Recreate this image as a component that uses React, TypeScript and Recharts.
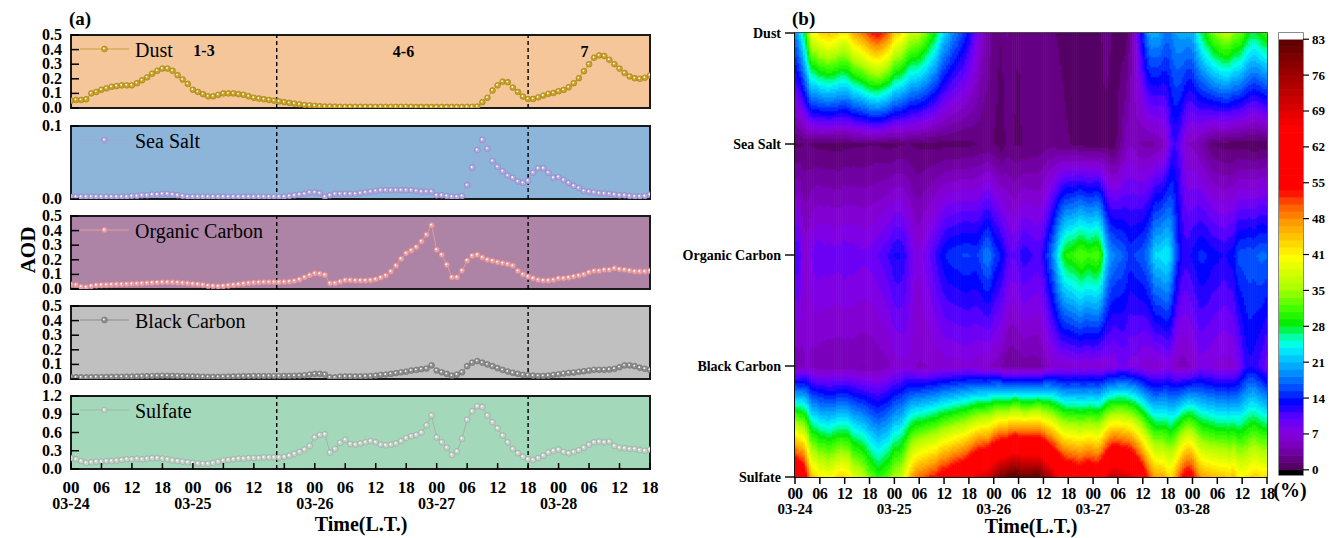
import React from 'react';
import {
  LineChart, Line, XAxis, YAxis, CartesianGrid, ReferenceLine, ReferenceArea,
  ComposedChart, Scatter, Legend,
} from 'recharts';

const FONT = "'Times New Roman', 'Liberation Serif', serif";

// ---------------- data (hourly, 03-24 00:00 .. 03-28 18:00) ----------------
const HOURS = Array.from({ length: 115 }, (_, i) => i);

const DUST = [
  0.05, 0.055, 0.055, 0.06, 0.10, 0.11, 0.125, 0.135, 0.145, 0.15,
  0.155, 0.155, 0.155, 0.17, 0.19, 0.21, 0.235, 0.255, 0.27, 0.27,
  0.255, 0.225, 0.195, 0.165, 0.125, 0.11, 0.095, 0.08, 0.08, 0.09,
  0.10, 0.10, 0.10, 0.095, 0.09, 0.08, 0.07, 0.065, 0.06, 0.055,
  0.05, 0.045, 0.04, 0.035, 0.03, 0.025, 0.02, 0.018, 0.015, 0.012,
  0.01, 0.01, 0.009, 0.008, 0.008, 0.008, 0.008, 0.008, 0.008, 0.008,
  0.008, 0.008, 0.008, 0.008, 0.008, 0.008, 0.008, 0.008, 0.007, 0.007,
  0.007, 0.007, 0.007, 0.007, 0.007, 0.007, 0.007, 0.007, 0.008, 0.008,
  0.01, 0.04, 0.07, 0.12, 0.155, 0.18, 0.177, 0.14, 0.11, 0.078,
  0.062, 0.062, 0.073, 0.085, 0.097, 0.103, 0.115, 0.124, 0.142, 0.17,
  0.204, 0.252, 0.30, 0.345, 0.36, 0.356, 0.33, 0.30, 0.27, 0.24,
  0.216, 0.204, 0.20, 0.207, 0.223,
];

const SEA_SALT = [
  0.003, 0.003, 0.003, 0.003, 0.003, 0.003, 0.003, 0.003, 0.003, 0.003,
  0.003, 0.003, 0.004, 0.004, 0.005, 0.005, 0.006, 0.006, 0.007, 0.007,
  0.006, 0.005, 0.004, 0.003, 0.003, 0.003, 0.003, 0.003, 0.003, 0.003,
  0.003, 0.003, 0.003, 0.003, 0.003, 0.003, 0.003, 0.003, 0.003, 0.003,
  0.003, 0.003, 0.003, 0.004, 0.005, 0.006, 0.007, 0.009, 0.009, 0.008,
  0.003, 0.005, 0.007, 0.007, 0.007, 0.007, 0.007, 0.008, 0.009, 0.010,
  0.011, 0.012, 0.012, 0.012, 0.012, 0.012, 0.012, 0.012, 0.011, 0.010,
  0.010, 0.010, 0.005, 0.005, 0.004, 0.003, 0.003, 0.004, 0.019, 0.043,
  0.067, 0.081, 0.069, 0.052, 0.044, 0.038, 0.032, 0.029, 0.024, 0.022,
  0.025, 0.036, 0.042, 0.042, 0.036, 0.029, 0.030, 0.026, 0.022, 0.018,
  0.015, 0.011, 0.010, 0.009, 0.008, 0.0075, 0.007, 0.006, 0.005, 0.005,
  0.004, 0.0035, 0.0035, 0.004, 0.006,
];

const ORGANIC_CARBON = [
  0.03, 0.028, 0.015, 0.012, 0.02, 0.025, 0.027, 0.028, 0.03, 0.031,
  0.032, 0.033, 0.035, 0.036, 0.038, 0.04, 0.042, 0.044, 0.046, 0.046,
  0.045, 0.043, 0.041, 0.038, 0.035, 0.032, 0.028, 0.022, 0.02, 0.018,
  0.02, 0.024, 0.028, 0.032, 0.036, 0.04, 0.043, 0.045, 0.047, 0.047,
  0.047, 0.047, 0.048, 0.05, 0.055, 0.065, 0.08, 0.095, 0.107, 0.105,
  0.096, 0.039, 0.04, 0.05, 0.06, 0.06, 0.058, 0.058, 0.058, 0.06,
  0.066, 0.078, 0.092, 0.12, 0.16, 0.207, 0.245, 0.264, 0.287, 0.326,
  0.372, 0.437, 0.269, 0.234, 0.166, 0.08, 0.08, 0.126, 0.195, 0.227,
  0.234, 0.216, 0.20, 0.193, 0.184, 0.177, 0.17, 0.16, 0.124, 0.10,
  0.085, 0.073, 0.062, 0.058, 0.058, 0.062, 0.073, 0.073, 0.078, 0.085,
  0.092, 0.10, 0.114, 0.124, 0.124, 0.131, 0.131, 0.142, 0.135, 0.131,
  0.126, 0.12, 0.12, 0.12, 0.124,
];

const BLACK_CARBON = [
  0.012, 0.012, 0.011, 0.011, 0.012, 0.013, 0.013, 0.014, 0.014, 0.015,
  0.015, 0.016, 0.016, 0.017, 0.018, 0.019, 0.02, 0.021, 0.022, 0.022,
  0.021, 0.02, 0.019, 0.018, 0.017, 0.016, 0.015, 0.014, 0.014, 0.014,
  0.015, 0.016, 0.017, 0.018, 0.019, 0.019, 0.02, 0.02, 0.02, 0.02,
  0.02, 0.02, 0.021, 0.021, 0.022, 0.023, 0.025, 0.03, 0.035, 0.035,
  0.03, 0.011, 0.011, 0.016, 0.017, 0.017, 0.017, 0.017, 0.018, 0.02,
  0.023, 0.028, 0.03, 0.035, 0.04, 0.046, 0.05, 0.058, 0.062, 0.067,
  0.072, 0.093, 0.058, 0.046, 0.035, 0.023, 0.03, 0.046, 0.088, 0.112,
  0.123, 0.112, 0.10, 0.088, 0.074, 0.062, 0.051, 0.042, 0.035, 0.028,
  0.026, 0.023, 0.021, 0.021, 0.023, 0.028, 0.032, 0.037, 0.042, 0.044,
  0.049, 0.053, 0.058, 0.063, 0.063, 0.063, 0.065, 0.07, 0.081, 0.093,
  0.093, 0.088, 0.077, 0.07, 0.062,
];

const SULFATE = [
  0.18, 0.16, 0.13, 0.10, 0.11, 0.12, 0.12, 0.13, 0.13, 0.14,
  0.15, 0.16, 0.16, 0.17, 0.16, 0.17, 0.18, 0.18, 0.17, 0.16,
  0.14, 0.13, 0.12, 0.11, 0.10, 0.09, 0.085, 0.085, 0.10, 0.12,
  0.14, 0.15, 0.16, 0.17, 0.17, 0.18, 0.18, 0.18, 0.19, 0.19,
  0.19, 0.19, 0.20, 0.22, 0.25, 0.28, 0.32, 0.38, 0.52, 0.56,
  0.57, 0.27, 0.33, 0.43, 0.48, 0.41, 0.40, 0.42, 0.44, 0.46,
  0.44, 0.40, 0.39, 0.40, 0.42, 0.46, 0.51, 0.54, 0.56, 0.60,
  0.72, 0.88, 0.52, 0.44, 0.35, 0.23, 0.29, 0.50, 0.81, 0.95,
  1.03, 1.02, 0.88, 0.77, 0.67, 0.55, 0.44, 0.33, 0.26, 0.20,
  0.16, 0.15, 0.18, 0.22, 0.27, 0.30, 0.32, 0.28, 0.26, 0.28,
  0.31, 0.35, 0.40, 0.44, 0.45, 0.44, 0.45, 0.38, 0.35, 0.34,
  0.33, 0.33, 0.31, 0.30, 0.32,
];

const SPECIES = ['Dust', 'Sea Salt', 'Organic Carbon', 'Black Carbon', 'Sulfate'];
const X_TICKS = [0, 6, 12, 18, 24, 30, 36, 42, 48, 54, 60, 66, 72, 78, 84, 90, 96, 102, 108, 114];
const HOUR_LABELS = ['00', '06', '12', '18'];
const DATE_LABELS = ['03-24', '03-25', '03-26', '03-27', '03-28'];
const PERIOD_BOUNDS = [40.5, 90];
const PERIOD_LABELS = ['1-3', '4-6', '7'];
const CB_LABELS = ['0', '7', '14', '21', '28', '35', '41', '48', '55', '62', '69', '76', '83'];
const CB_MAX = 83;
const CB_LEVELS = 60;

// ---------------- table for the line panels ----------------
const ROWS = HOURS.map((h, i) => ({
  h, dust: DUST[i], ss: SEA_SALT[i], oc: ORGANIC_CARBON[i], bc: BLACK_CARBON[i], su: SULFATE[i],
}));

// ---------------- colour map ----------------
const CMAP: number[][] = [
  [0, 75, 0, 85], [2, 100, 0, 130], [4, 118, 0, 175], [7, 135, 0, 222], [10, 95, 0, 255], [13, 0, 0, 255],
  [16, 0, 80, 255], [19, 0, 150, 255], [22, 0, 210, 255], [24, 0, 255, 240], [26, 0, 255, 150],
  [28, 0, 235, 0], [31, 60, 255, 0], [35, 170, 255, 0], [41, 255, 255, 0], [44, 255, 210, 0],
  [48, 255, 150, 0], [51, 255, 90, 0], [54, 255, 0, 0], [66, 255, 0, 0], [70, 215, 0, 0],
  [76, 160, 0, 0], [83, 90, 0, 0],
];
function cmap(v: number): string {
  if (v <= CMAP[0][0]) return `rgb(${CMAP[0][1]},${CMAP[0][2]},${CMAP[0][3]})`;
  for (let i = 1; i < CMAP.length; i++) {
    if (v <= CMAP[i][0]) {
      const a = CMAP[i - 1], b = CMAP[i];
      const f = (v - a[0]) / (b[0] - a[0]);
      const c = [1, 2, 3].map((k) => Math.round(a[k] + (b[k] - a[k]) * f));
      return `rgb(${c[0]},${c[1]},${c[2]})`;
    }
  }
  const l = CMAP[CMAP.length - 1];
  return `rgb(${l[1]},${l[2]},${l[3]})`;
}
const LEVEL_STEP = CB_MAX / CB_LEVELS;
const LEVEL_COLORS = Array.from({ length: CB_LEVELS }, (_, k) => cmap((k + 0.5) * LEVEL_STEP));
const levelOf = (v: number) => Math.max(0, Math.min(CB_LEVELS - 1, Math.floor(v / LEVEL_STEP)));

// ---------------- percentage contribution (derived from the AOD arrays) ----------------
const SERIES = [DUST, SEA_SALT, ORGANIC_CARBON, BLACK_CARBON, SULFATE];
const PCT = SERIES.map((s) => s.map((v, i) => (100 * v) / SERIES.reduce((a, t) => a + t[i], 0)));
// heat-map rows bottom->top : Sulfate(0) BC(1) OC(2) SeaSalt(3) Dust(4)
const ROW_SERIES = [PCT[4], PCT[3], PCT[2], PCT[1], PCT[0]];

// contour rendering cells (time columns x vertical runs of the same colour level)
const COL_W = 0.5;
const N_SUB = 222;
const CELLS: { x: number; y: number; w: number; hh: number; c: string }[] = [];
for (let i = 0; i < 114 / COL_W; i++) {
  const t = (i + 0.5) * COL_W;
  const h0 = Math.floor(t);
  const h1 = Math.min(h0 + 1, 114);
  const f = t - h0;
  const prof = ROW_SERIES.map((r) => r[h0] * (1 - f) + r[h1] * f);
  let start = 0;
  let cur = -1;
  const dy = 4 / N_SUB;
  for (let j = 0; j <= N_SUB; j++) {
    let lv = -2;
    if (j < N_SUB) {
      const y = (j + 0.5) * dy;
      const k = Math.min(Math.floor(y), 3);
      const g = y - k;
      const v = prof[k] * (1 - g) + prof[k + 1] * g;
      lv = levelOf(v);
    }
    if (j === 0) { cur = lv; start = 0; continue; }
    if (lv !== cur) {
      const y0 = start * dy, y1 = j * dy;
      CELLS.push({ x: t, y: (y0 + y1) / 2, w: COL_W, hh: y1 - y0, c: LEVEL_COLORS[cur] });
      start = j;
      cur = lv;
    }
  }
}

// colour-bar bands (value ranges of the legend)
const CB_BOTTOM = -1;
const CB_TOP = 84.2;
const CB_BANDS = [
  { x: 0.5, y: (CB_BOTTOM + 0) / 2, hh: 0 - CB_BOTTOM, c: '#000000' },
  ...LEVEL_COLORS.map((c, k) => ({ x: 0.5, y: (k + 0.5) * LEVEL_STEP, hh: LEVEL_STEP, c })),
  { x: 0.5, y: (CB_MAX + CB_TOP) / 2, hh: CB_TOP - CB_MAX, c: '#ffffff' },
];

// ---------------- panels (a) ----------------
const PANEL_H = 73;
const PANELS = [
  { key: 'dust', name: 'Dust', top: 35, domain: [0, 0.5], ticks: [0, 0.1, 0.2, 0.3, 0.4, 0.5], bg: '#F5C699', line: '#C9A23A', fill: '#C9A227', edge: '#9C7D12' },
  { key: 'ss', name: 'Sea Salt', top: 125.5, domain: [0, 0.1], ticks: [0, 0.1], bg: '#8DB5D9', line: '#A9A2D8', fill: '#B3A9E0', edge: '#8A82C0' },
  { key: 'oc', name: 'Organic Carbon', top: 215.5, domain: [0, 0.5], ticks: [0, 0.1, 0.2, 0.3, 0.4, 0.5], bg: '#AD84A5', line: '#E39AA2', fill: '#EBA3AA', edge: '#C87E87' },
  { key: 'bc', name: 'Black Carbon', top: 306, domain: [0, 0.5], ticks: [0, 0.1, 0.2, 0.3, 0.4, 0.5], bg: '#C0C0C0', line: '#8A8A8A', fill: '#8E8E8E', edge: '#6C6C6C' },
  { key: 'su', name: 'Sulfate', top: 396, domain: [0, 1.2], ticks: [0, 0.3, 0.6, 0.9, 1.2], bg: '#A3D8BB', line: '#A2B7AA', fill: '#C6D2CA', edge: '#94A39A' },
];

const txt = { fontFamily: FONT, fontWeight: 'bold' as const, fill: '#000' };

const LeftYTick = (p: any) => {
  const { x, y, payload } = p;
  return (
    <g>
      <line x1={x + 9} x2={x + 17} y1={y} y2={y} stroke="#000" strokeWidth={1.5} />
      <text x={x} y={y} dy={5} textAnchor="end" fontSize={16} {...txt}>
        {Number(payload.value).toFixed(1)}
      </text>
    </g>
  );
};

const InnerXTick = (p: any) => {
  const { x, y } = p;
  return <line x1={x} x2={x} y1={y} y2={y - 6} stroke="#000" strokeWidth={1.5} />;
};

const makeDateTick = (inward: boolean, hourDy: number, dateDy: number, hs: number, ds: number, ls: number) => (p: any) => {
  const { x, y, payload } = p;
  const v = payload.value as number;
  const hl = HOUR_LABELS[(v % 24) / 6];
  const dl = v % 24 === 0 ? DATE_LABELS[v / 24] : null;
  return (
    <g>
      <line x1={x} x2={x} y1={y} y2={inward ? y - 6 : y + 7} stroke="#000" strokeWidth={1.5} />
      <text x={x} y={y + hourDy} textAnchor="middle" fontSize={hs} letterSpacing={ls} {...txt}>{hl}</text>
      {dl && <text x={x} y={y + dateDy} textAnchor="middle" fontSize={ds} {...txt}>{dl}</text>}
    </g>
  );
};
const LeftBottomTick = makeDateTick(true, 24, 40, 17, 16, 0);
const HeatBottomTick = makeDateTick(false, 22, 37, 16, 15, -0.4);

const makeDot = (fill: string, edge: string) => (p: any) => {
  const { cx, cy, index } = p;
  if (cx == null || cy == null) return <g key={`d${index}`} />;
  return (
    <g key={`d${index}`}>
      <circle cx={cx} cy={cy} r={2.9} fill={fill} stroke={edge} strokeWidth={0.6} />
      <circle cx={cx - 0.6} cy={cy - 0.6} r={0.9} fill="#ffffff" />
    </g>
  );
};

function Panel({ cfg, last }: { cfg: any; last: boolean }) {
  const MT = 12;
  const xh = last ? 62 : 0;
  const mb = last ? 0 : 10;
  const H = MT + PANEL_H + xh + mb;
  const dot = makeDot(cfg.fill, cfg.edge);
  return (
    <div style={{ position: 'absolute', left: 0, top: cfg.top - MT }}>
      <LineChart width={668} height={H} data={ROWS} margin={{ top: MT, right: 18, bottom: mb, left: 0 }}>
        <CartesianGrid fill={cfg.bg} stroke="none" horizontal={false} vertical={false} />
        <XAxis
          dataKey="h" type="number" domain={[0, 114]} ticks={X_TICKS} interval={0}
          height={xh} axisLine={false} tickLine={false} tickSize={0} tickMargin={0}
          tick={last ? LeftBottomTick : InnerXTick} allowDataOverflow
        />
        <YAxis
          type="number" domain={cfg.domain} ticks={cfg.ticks} interval={0} width={71}
          axisLine={false} tickLine={false} tickSize={0} tickMargin={9} tick={LeftYTick} allowDataOverflow
        />
        {PERIOD_BOUNDS.map((b) => (
          <ReferenceLine key={b} x={b} stroke="#000" strokeWidth={1.4} strokeDasharray="4 3" />
        ))}
        <Line
          dataKey={cfg.key} type="linear" stroke={cfg.line} strokeWidth={1}
          dot={dot} activeDot={false} isAnimationActive={false}
        />
        <ReferenceArea
          x1={0} x2={114} y1={cfg.domain[0]} y2={cfg.domain[1]}
          fill="none" fillOpacity={0} stroke="#1a1a1a" strokeWidth={2}
        />
        <Legend
          layout="horizontal" verticalAlign="middle" align="center"
          wrapperStyle={{ left: 78, top: MT + 1, width: 260, height: 28 }}
          content={() => (
            <svg width={260} height={28} style={{ display: 'block' }}>
              <line x1={2} x2={51} y1={13} y2={13} stroke={cfg.line} strokeWidth={1} />
              <circle cx={26.5} cy={13} r={2.9} fill={cfg.fill} stroke={cfg.edge} strokeWidth={0.6} />
              <circle cx={25.9} cy={12.4} r={0.9} fill="#fff" />
              <text x={57} y={20.5} fontFamily={FONT} fontSize={20} fill="#000">{cfg.name}</text>
            </svg>
          )}
        />
      </LineChart>
    </div>
  );
}

// ---------------- panel (b) heat map ----------------
const HM_W = 472;
const HM_H = 444;
const PX_PER_H = HM_W / 114;
const PX_PER_Y = HM_H / 4;

const renderCell = (p: any) => {
  const d = p.payload;
  const w = d.w * PX_PER_H;
  const hh = d.hh * PX_PER_Y;
  return <rect x={p.cx - w / 2 - 0.3} y={p.cy - hh / 2 - 0.3} width={w + 0.6} height={hh + 0.6} fill={d.c} />;
};

const HeatYTick = (p: any) => {
  const { x, y, payload } = p;
  return (
    <g>
      <line x1={x + 14} x2={x + 4} y1={y} y2={y} stroke="#000" strokeWidth={1.4} />
      <text x={x} y={y} dy={5} textAnchor="end" fontSize={14} {...txt}>{SPECIES[4 - payload.value]}</text>
    </g>
  );
};

function HeatMap() {
  return (
    <div style={{ position: 'absolute', left: 660, top: 0 }}>
      <ComposedChart width={620} height={538} margin={{ top: 33, right: 13, bottom: 0, left: 0 }}>
        <XAxis
          dataKey="x" type="number" domain={[0, 114]} ticks={X_TICKS} interval={0} height={61}
          axisLine={{ stroke: '#000', strokeWidth: 1.5 }} tickLine={false} tickSize={0} tickMargin={0}
          tick={HeatBottomTick} allowDataOverflow
        />
        <YAxis
          dataKey="y" type="number" domain={[0, 4]} ticks={[0, 1, 2, 3, 4]} interval={0} width={135}
          axisLine={{ stroke: '#000', strokeWidth: 1.5 }} tickLine={false} tickSize={0} tickMargin={14}
          tick={HeatYTick} allowDataOverflow
        />
        <Scatter data={CELLS} shape={renderCell} isAnimationActive={false} />
        <ReferenceArea x1={0} x2={114} y1={0} y2={4} fill="none" fillOpacity={0} stroke="#111" strokeWidth={1.5} />
      </ComposedChart>
    </div>
  );
}

// ---------------- colour bar ----------------
const CB_PLOT_W = 24;
const CB_PLOT_H = 442;
const CB_PX = CB_PLOT_H / (CB_TOP - CB_BOTTOM);
const CB_TICKS = CB_LABELS.map((_, i) => (i * CB_MAX) / (CB_LABELS.length - 1));

const renderBand = (p: any) => {
  const d = p.payload;
  const hh = d.hh * CB_PX;
  return <rect x={p.cx - CB_PLOT_W / 2} y={p.cy - hh / 2 - 0.3} width={CB_PLOT_W} height={hh + 0.6} fill={d.c} />;
};

const CbTick = (p: any) => {
  const { x, y, index } = p;
  return (
    <g>
      <line x1={x - 9} x2={x - 3} y1={y} y2={y} stroke="#000" strokeWidth={1.2} />
      <text x={x} y={y} dy={4.5} textAnchor="start" fontSize={13} {...txt}>{CB_LABELS[index]}</text>
    </g>
  );
};

function ColorBar() {
  return (
    <div style={{ position: 'absolute', left: 1259, top: 0 }}>
      <ComposedChart width={71} height={538} margin={{ top: 33, right: 0, bottom: 63, left: 20 }}>
        <XAxis type="number" dataKey="x" domain={[0, 1]} height={0} axisLine={false} tickLine={false} tick={false} />
        <YAxis
          dataKey="y" orientation="right" type="number" domain={[CB_BOTTOM, CB_TOP]} ticks={CB_TICKS} interval={0} width={27}
          axisLine={false} tickLine={false} tickSize={0} tickMargin={9} tick={CbTick} allowDataOverflow
        />
        <Scatter data={CB_BANDS} shape={renderBand} isAnimationActive={false} />
        <ReferenceArea x1={0} x2={1} y1={CB_BOTTOM} y2={CB_TOP} fill="none" fillOpacity={0} stroke="#666" strokeWidth={1.5} />
      </ComposedChart>
    </div>
  );
}

export default function App() {
  return (
    <div style={{ position: 'absolute', left: 0, top: 0, width: 1330, height: 538, background: '#fff', fontFamily: FONT, overflow: 'hidden' }}>
      {PANELS.map((p, i) => (
        <Panel key={p.key} cfg={p} last={i === PANELS.length - 1} />
      ))}
      <HeatMap />
      <ColorBar />
      <svg width={1330} height={538} style={{ position: 'absolute', left: 0, top: 0, pointerEvents: 'none' }}>
        <text x={69} y={25} fontSize={19} {...txt}>(a)</text>
        <text x={792} y={25} fontSize={19} {...txt}>(b)</text>
        <text transform="translate(35,250) rotate(-90)" textAnchor="middle" fontSize={21} {...txt}>AOD</text>
        <text x={361} y={531} textAnchor="middle" fontSize={20} {...txt}>Time(L.T.)</text>
        <text x={1031} y={533} textAnchor="middle" fontSize={20} {...txt}>Time(L.T.)</text>
        <text x={1290} y={497} textAnchor="middle" fontSize={20} {...txt}>(%)</text>
        <text x={204} y={56} textAnchor="middle" fontSize={16} {...txt}>{PERIOD_LABELS[0]}</text>
        <text x={403.5} y={57} textAnchor="middle" fontSize={16} {...txt}>{PERIOD_LABELS[1]}</text>
        <text x={584.5} y={57} textAnchor="middle" fontSize={16} {...txt}>{PERIOD_LABELS[2]}</text>
      </svg>
    </div>
  );
}
